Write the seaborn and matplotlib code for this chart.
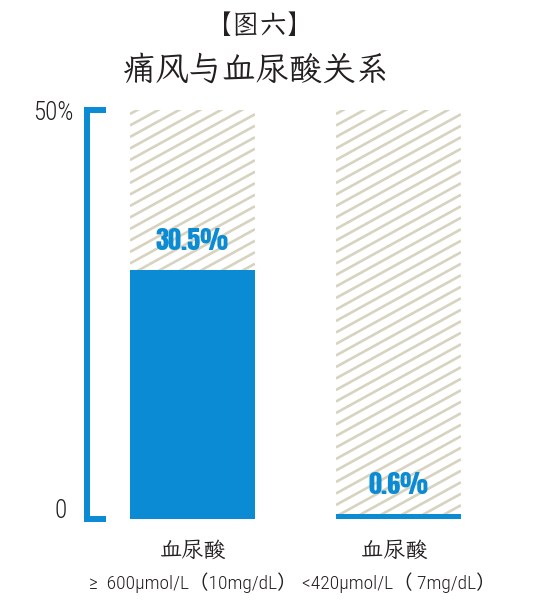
import numpy as np
import pandas as pd
import matplotlib.pyplot as plt
import matplotlib.transforms as mtransforms
from matplotlib import font_manager
from matplotlib.collections import LineCollection
import seaborn as sns

# data
categories = ['血尿酸', '血尿酸 ']
sub_labels = ['≥  600μmol/L（10mg/dL）', '<420μmol/L（ 7mg/dL）']
gout_rate = [30.5, 0.6]
value_labels = ['30.5%', '0.6%']
axis_max = 50
ytick_values = [0, 50]
ytick_labels = ['0', '50%']

BLUE = '#0a8bd3'
TAN = '#d8d3c0'
INK = '#231f20'

kai_names = sorted({f.name for f in font_manager.fontManager.ttflist
                    if 'wenkai' in f.name.lower() and 'mono' not in f.name.lower()})
KAI = kai_names[:1] + ['Noto Sans CJK SC', 'DejaVu Sans']
NARROW = ['Roboto Condensed', 'Noto Sans CJK SC', 'DejaVu Sans']
IMPACT = ['Anton', 'DejaVu Sans']

sns.set_theme(style='white')
plt.rcParams['font.family'] = KAI

fig = plt.figure(figsize=(5.4, 6.07), dpi=100)
ax = fig.add_axes([87 / 540, 1 - 519 / 607, 413 / 540, 409 / 607])

df = pd.DataFrame({'cat': categories, 'rate': gout_rate,
                   'full': [axis_max] * len(categories)})

# background (hatched) bars up to 50%
sns.barplot(data=df, x='cat', y='full', color='white', width=0.607,
            saturation=1, linewidth=0, ax=ax)
bg_bars = list(ax.patches)
for p in bg_bars:
    p.set_zorder(0.5)
sns.barplot(data=df, x='cat', y='rate', color=BLUE, width=0.607,
            saturation=1, linewidth=0, ax=ax)
for p in ax.patches[len(bg_bars):]:
    p.set_zorder(1.2)

ax.set_xlim(-0.512, 1.493)
ax.set_ylim(0, axis_max)

# custom diagonal hatch, drawn in pixel space and clipped to each background bar
fig.canvas.draw()
slope, gap = 0.55, 11.5
for patch in bg_bars:
    bb = patch.get_window_extent()
    n = int(np.ceil((bb.height + slope * bb.width) / gap)) + 2
    segs = []
    for k in range(n):
        y0 = bb.y1 - k * gap - 4
        segs.append([(bb.x0, y0), (bb.x1, y0 + slope * bb.width)])
    lc = LineCollection(segs, colors=TAN, linewidths=1.9,
                        transform=mtransforms.IdentityTransform(), zorder=0.8)
    ax.add_collection(lc)
    lc.set_clip_path(patch)

# value labels
for i, (v, lab) in enumerate(zip(gout_rate, value_labels)):
    ax.annotate(lab, (i, v), xytext=(0, 12), textcoords='offset points',
                ha='center', va='bottom', color=BLUE, fontsize=19,
                family=IMPACT)

# bracket-style y axis
for s in ['top', 'right', 'bottom']:
    ax.spines[s].set_visible(False)
ax.spines['left'].set_color(BLUE)
ax.spines['left'].set_linewidth(4.3)
ax.spines['left'].set_bounds(0, axis_max)
ax.spines['left'].set_capstyle('projecting')
ax.set_yticks(ytick_values)
ax.set_yticklabels(ytick_labels, family=NARROW, fontsize=18, color=INK,
                   fontweight='light')
ax.tick_params(axis='y', left=True, direction='in', length=14, width=4.3,
               color=BLUE, pad=10)
zero_lab = ax.get_yticklabels()[0]
zero_lab.set_transform(zero_lab.get_transform() +
                       mtransforms.ScaledTranslation(-6 / 100, 11 / 100, fig.dpi_scale_trans))

ax.set_xticks(range(len(categories)))
ax.set_xticklabels(categories, fontsize=16, color=INK)
ax.tick_params(axis='x', length=0, pad=16)
ax.set_xlabel('')
ax.set_ylabel('')
for i, sub in enumerate(sub_labels):
    ax.annotate(sub, (i, 0), xytext=(0, -64), textcoords='offset pixels',
                ha='center', va='center', fontsize=14, color=INK,
                family=NARROW, fontweight='light', annotation_clip=False)

fig.text(260 / 540, 1 - 27 / 607, '【图六】', ha='center', va='center',
         fontsize=20, color=INK)
fig.text(256 / 540, 1 - 70 / 607, '痛风与血尿酸关系', ha='center', va='center',
         fontsize=24, color=INK)

fig.savefig('out.png', dpi=100)
